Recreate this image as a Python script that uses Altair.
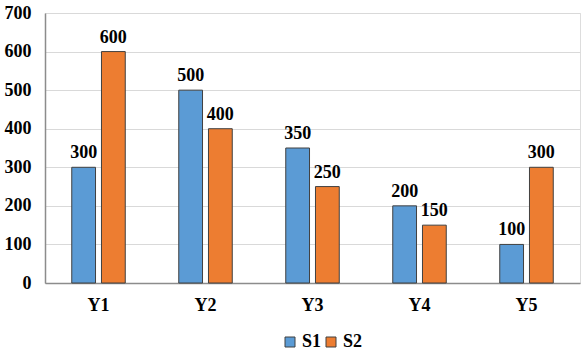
import altair as alt
import pandas as pd

years = ["Y1", "Y2", "Y3", "Y4", "Y5"]
s1 = [300, 500, 350, 200, 100]
s2 = [600, 400, 250, 150, 300]
series_names = ["S1", "S2"]
colors = ["#5B9BD5", "#ED7D31"]

rows = []
for i, y in enumerate(years):
    rows.append({"year": y, "series": "S1", "value": s1[i]})
    rows.append({"year": y, "series": "S2", "value": s2[i]})
df = pd.DataFrame(rows)

FONT = "'Liberation Serif', 'Times New Roman', Times, serif"
FS = 18

x = alt.X("year:N", sort=years, title=None,
          scale=alt.Scale(paddingInner=0.5, paddingOuter=0.25),
          axis=alt.Axis(labelAngle=0, labelFont=FONT, labelFontWeight="bold",
                        labelFontSize=FS, labelColor="#000000", ticks=False,
                        labelPadding=13, domainColor="#8c8c8c", domainWidth=1.5,
                        grid=False))
xo = alt.XOffset("series:N", sort=series_names,
                 scale=alt.Scale(paddingInner=0.2, paddingOuter=0))
y = alt.Y("value:Q", title=None,
          scale=alt.Scale(domain=[0, 700], nice=False),
          axis=alt.Axis(values=[0, 100, 200, 300, 400, 500, 600, 700],
                        labelFont=FONT, labelFontWeight="bold", labelFontSize=FS,
                        labelColor="#000000", ticks=False, labelPadding=14,
                        domainColor="#8c8c8c", domainWidth=1.5,
                        gridColor="#d9d9d9", gridWidth=1))

bars = alt.Chart(df).mark_bar(stroke="#404040", strokeWidth=1).encode(
    x=x, xOffset=xo, y=y,
    color=alt.Color("series:N", sort=series_names, title=None,
                    scale=alt.Scale(domain=series_names, range=colors),
                    legend=alt.Legend(orient="none", direction="horizontal",
                                      legendX=236, legendY=320,
                                      symbolType="square", symbolSize=100,
                                      symbolStrokeColor="#404040",
                                      symbolStrokeWidth=1,
                                      labelFont=FONT, labelFontWeight="bold",
                                      labelFontSize=FS, labelColor="#000000",
                                      columnPadding=0, labelOffset=3)),
)

labels = alt.Chart(df).mark_text(
    font=FONT, fontWeight="bold", fontSize=FS, color="#000000",
    baseline="alphabetic", dy=-9
).encode(
    x=x, xOffset=xo, y=y,
    text=alt.Text("value:Q"),
)

chart = alt.layer(bars, labels).properties(
    width=535, height=270,
    autosize=alt.AutoSizeParams(type="none"),
    padding={"left": 45, "top": 13, "right": 4, "bottom": 73},
).configure_view(stroke=None).configure(background="#ffffff")

chart.save("out.html", embed_options={"renderer": "svg", "actions": False})
